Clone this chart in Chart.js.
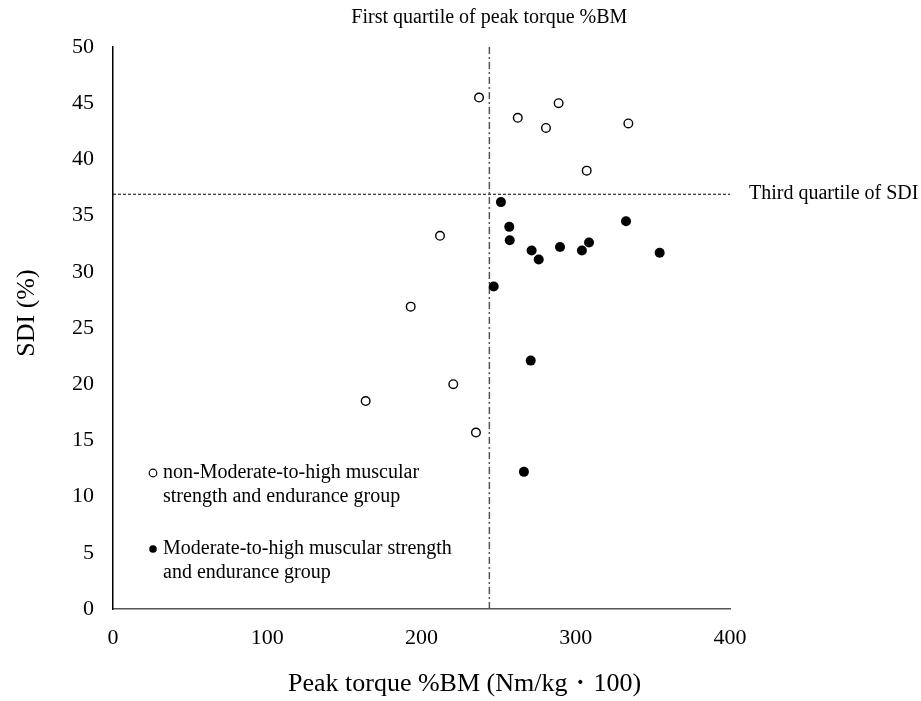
<!DOCTYPE html>
<html>
<head>
<meta charset="utf-8">
<script src="https://cdn.jsdelivr.net/npm/chart.js@4/dist/chart.umd.min.js"></script>
<style>
  html, body { margin: 0; padding: 0; background: #fff; }
  #wrap { width: 921px; height: 701px; position: relative; }
</style>
</head>
<body>
<div id="wrap"><canvas id="c" width="921" height="701"></canvas></div>
<script>
// ---- Data ----
const nonModerateX = [237.3, 262.4, 288.9, 280.7, 334.1, 307.1, 212.0, 193.0, 163.8, 220.6, 235.3];
const nonModerateY = [45.5, 43.7, 45.0, 42.8, 43.2, 39.0, 33.2, 26.9, 18.5, 20.0, 15.7];
const moderateX = [251.5, 256.9, 257.2, 271.4, 276.0, 289.8, 304.0, 308.6, 332.6, 354.4, 246.8, 270.8, 266.4];
const moderateY = [36.2, 34.0, 32.8, 31.9, 31.1, 32.2, 31.9, 32.6, 34.5, 31.7, 28.7, 22.1, 12.2];
const firstQuartileTorque = 244;
const thirdQuartileSDI = 36.9;
const xTicks = [0, 100, 200, 300, 400];
const yTicks = [0, 5, 10, 15, 20, 25, 30, 35, 40, 45, 50];
const seriesLabels = [
  ["non-Moderate-to-high muscular", "strength and endurance group"],
  ["Moderate-to-high muscular strength", "and endurance group"]
];
const xTitle = "Peak torque %BM (Nm/kg\u30FB100)";
const yTitle = "SDI (%)";
const vLineLabel = "First quartile of peak torque %BM";
const hLineLabel = "Third quartile of SDI";

const FONT = "'Liberation Serif', 'Times New Roman', 'DejaVu Serif', serif";

const toPts = (xs, ys) => xs.map((x, i) => ({ x: x, y: ys[i] }));

const annotations = {
  id: 'annotations',
  afterDraw(chart) {
    const ctx = chart.ctx;
    const xs = chart.scales.x, ys = chart.scales.y;
    const area = chart.chartArea;
    ctx.save();
    ctx.fillStyle = '#000';
    // top label centered over vertical quartile line
    ctx.font = "20px " + FONT;
    ctx.textAlign = 'center';
    ctx.textBaseline = 'middle';
    ctx.fillText(vLineLabel, xs.getPixelForValue(firstQuartileTorque), 18);
    // right label aligned with horizontal quartile line
    ctx.textAlign = 'left';
    ctx.fillText(hLineLabel, area.right + 19, ys.getPixelForValue(thirdQuartileSDI));
    // axis titles
    ctx.font = "26px " + FONT;
    ctx.textAlign = 'left';
    ctx.fillText(xTitle, 288, 684);
    ctx.textAlign = 'center';
    ctx.save();
    ctx.translate(27, 313);
    ctx.rotate(-Math.PI / 2);
    ctx.fillText(yTitle, 0, 0);
    ctx.restore();
    // legend
    ctx.font = "20px " + FONT;
    ctx.textAlign = 'left';
    const legendRows = [473, 549];
    seriesLabels.forEach((lines, i) => {
      const y0 = legendRows[i];
      ctx.beginPath();
      ctx.arc(area.left + 40, y0, 3.8, 0, Math.PI * 2);
      if (i === 0) {
        ctx.fillStyle = '#fff'; ctx.fill();
        ctx.lineWidth = 1.2; ctx.strokeStyle = '#000'; ctx.stroke();
      } else {
        ctx.fillStyle = '#000'; ctx.fill();
      }
      ctx.fillStyle = '#000';
      lines.forEach((t, j) => ctx.fillText(t, area.left + 50, y0 + j * 24));
    });
    ctx.restore();
  }
};

new Chart(document.getElementById('c'), {
  type: 'scatter',
  data: {
    datasets: [
      {
        label: 'firstQuartile',
        type: 'line',
        data: [{ x: firstQuartileTorque, y: 0 }, { x: firstQuartileTorque, y: 50 }],
        borderColor: '#555',
        borderWidth: 1.5,
        borderDash: [7, 3, 2, 3],
        pointRadius: 0,
        fill: false,
        order: 5
      },
      {
        label: 'thirdQuartile',
        type: 'line',
        data: [{ x: 0, y: thirdQuartileSDI }, { x: 400, y: thirdQuartileSDI }],
        borderColor: '#000',
        borderWidth: 1,
        borderDash: [3, 2],
        pointRadius: 0,
        fill: false,
        order: 5
      },
      {
        label: seriesLabels[0].join(' '),
        data: toPts(nonModerateX, nonModerateY),
        pointRadius: 4.3,
        pointBackgroundColor: '#fff',
        pointBorderColor: '#000',
        pointBorderWidth: 1.4,
        order: 1
      },
      {
        label: seriesLabels[1].join(' '),
        data: toPts(moderateX, moderateY),
        pointRadius: 5,
        pointBackgroundColor: '#000',
        pointBorderColor: '#000',
        pointBorderWidth: 0,
        order: 1
      }
    ]
  },
  options: {
    responsive: false,
    animation: false,
    layout: { padding: { top: 47, right: 191, left: 0, bottom: 0 } },
    plugins: { legend: { display: false }, tooltip: { enabled: false }, title: { display: false } },
    scales: {
      x: {
        type: 'linear',
        min: 0, max: 400,
        afterBuildTicks: (s) => { s.ticks = xTicks.map(v => ({ value: v })); },
        afterFit: (s) => { s.height = 92; },
        grid: { display: false, drawTicks: false },
        border: { display: true, color: '#555', width: 1.5 },
        ticks: { color: '#000', font: { family: FONT, size: 22 }, padding: 16, maxRotation: 0 }
      },
      y: {
        type: 'linear',
        min: 0, max: 50,
        afterBuildTicks: (s) => { s.ticks = yTicks.map(v => ({ value: v })); },
        afterFit: (s) => { s.width = 113; },
        grid: { display: false, drawTicks: false },
        border: { display: true, color: '#000', width: 1.5 },
        ticks: { color: '#000', font: { family: FONT, size: 22 }, padding: 19 }
      }
    }
  },
  plugins: [annotations]
});
</script>
</body>
</html>
